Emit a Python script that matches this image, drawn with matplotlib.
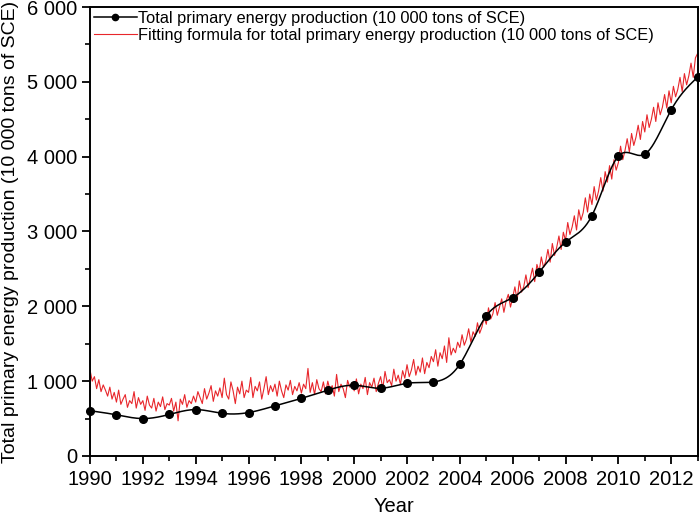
import numpy as np
import matplotlib
matplotlib.use("Agg")
import matplotlib.pyplot as plt
from matplotlib.ticker import MultipleLocator, FuncFormatter

plt.rcParams['font.family'] = ['Liberation Sans', 'DejaVu Sans']

# Annual production (black dots)
years = list(range(1990, 2014))
production = [605, 550, 500, 555, 620, 570, 580, 670, 770, 880, 945, 905,
              972, 989, 1226, 1872, 2115, 2455, 2857, 3213, 4007, 4033, 4626, 5063]

# Monthly fitted values (red line), one row per year, Jan..Dec
fit_by_year = [
    [1150, 1000, 1060, 900, 1020, 860, 950, 880, 800, 920, 760, 850],        # 1990
    [720, 880, 690, 760, 820, 650, 740, 700, 860, 640, 780, 690],            # 1991
    [740, 610, 800, 680, 640, 770, 600, 720, 660, 790, 620, 700],            # 1992
    [680, 770, 600, 720, 470, 760, 690, 820, 650, 740, 700, 800],            # 1993
    [720, 860, 780, 700, 900, 760, 840, 940, 730, 870, 800, 910],            # 1994
    [780, 1040, 820, 760, 990, 870, 700, 920, 830, 1000, 780, 880],          # 1995
    [850, 1050, 780, 930, 870, 990, 760, 900, 1060, 820, 940, 860],          # 1996
    [960, 800, 1000, 870, 780, 950, 880, 1010, 820, 930, 870, 980],          # 1997
    [840, 960, 900, 1170, 850, 980, 820, 1020, 900, 860, 990, 830],          # 1998
    [1000, 880, 940, 800, 1090, 860, 960, 900, 780, 1010, 920, 980],         # 1999
    [870, 1030, 830, 960, 900, 1050, 820, 980, 920, 1040, 860, 970],         # 2000
    [1060, 900, 1130, 980, 1020, 940, 1160, 1000, 1080, 960, 1140, 1040],    # 2001
    [1220, 1060, 1150, 1290, 1080, 1200, 1120, 1310, 1100, 1250, 1180, 1330],  # 2002
    [1260, 1420, 1200, 1380, 1300, 1470, 1250, 1580, 1350, 1440, 1380, 1520],  # 2003
    [1450, 1620, 1480, 1560, 1700, 1520, 1660, 1600, 1780, 1640, 1720, 1850],  # 2004
    [1760, 1980, 1830, 1900, 2050, 1880, 1990, 2100, 1920, 2070, 2160, 1990],  # 2005
    [2120, 2260, 2080, 2340, 2190, 2260, 2420, 2250, 2380, 2510, 2330, 2560],  # 2006
    [2460, 2660, 2520, 2600, 2760, 2590, 2840, 2680, 2790, 2940, 2760, 2990],  # 2007
    [2880, 3120, 2960, 3060, 3210, 3020, 3290, 3150, 3250, 3450, 3260, 3500],  # 2008
    [3360, 3600, 3420, 3540, 3720, 3540, 3800, 3660, 3880, 3700, 3960, 3820],  # 2009
    [3920, 4140, 3960, 4080, 4240, 4060, 4310, 4150, 4260, 4420, 4230, 4470],  # 2010
    [4330, 4560, 4390, 4500, 4660, 4470, 4720, 4560, 4660, 4830, 4650, 4880],  # 2011
    [4720, 4940, 4800, 4900, 5060, 4870, 5110, 4960, 5080, 5250, 5060, 5320],  # 2012
]
fit_last = [5380]  # Jan 2013

labels = ["Total primary energy production (10 000 tons of SCE)",
          "Fitting formula for total primary energy production (10 000 tons of SCE)"]


def natural_spline(x, y, xs):
    x = np.asarray(x, float); y = np.asarray(y, float)
    n = len(x)
    h = np.diff(x)
    A = np.zeros((n, n)); b = np.zeros(n)
    A[0, 0] = 1; A[-1, -1] = 1
    for i in range(1, n - 1):
        A[i, i - 1] = h[i - 1]
        A[i, i] = 2 * (h[i - 1] + h[i])
        A[i, i + 1] = h[i]
        b[i] = 3 * ((y[i + 1] - y[i]) / h[i] - (y[i] - y[i - 1]) / h[i - 1])
    c = np.linalg.solve(A, b)
    out = np.empty_like(xs)
    for k, xv in enumerate(xs):
        i = min(max(np.searchsorted(x, xv) - 1, 0), n - 2)
        dx = xv - x[i]
        bi = (y[i + 1] - y[i]) / h[i] - h[i] * (2 * c[i] + c[i + 1]) / 3
        di = (c[i + 1] - c[i]) / (3 * h[i])
        out[k] = y[i] + bi * dx + c[i] * dx ** 2 + di * dx ** 3
    return out


fit_vals = [v for row in fit_by_year for v in row] + fit_last
fit_x = 1990 + np.arange(len(fit_vals)) / 12.0

fig = plt.figure(figsize=(7.0, 5.15), dpi=100)
ax = fig.add_axes([0.1286, 0.1146, 0.868, 0.8718])

ax.plot(fit_x, fit_vals, color='#e8262b', lw=0.8, zorder=2)
xs = np.linspace(years[0], years[-1], 600)
ax.plot(xs, natural_spline(years, production, xs), color='black', lw=1.1, zorder=3)
ax.plot(years, production, 'o', color='black', ms=5.5, zorder=4, clip_on=False)

# legend proxies
h1, = ax.plot([], [], color='black', lw=1.1, marker='o', ms=4.5)
h2, = ax.plot([], [], color='#e8262b', lw=0.8)
ax.legend([h1, h2], labels, loc='upper left', frameon=False, fontsize=11.8,
          handlelength=2.6, handletextpad=0.1, borderaxespad=0.05,
          labelspacing=0.1, borderpad=0.2)

ax.set_xlim(1990, 2013)
ax.set_ylim(0, 6000)
ax.xaxis.set_major_locator(MultipleLocator(2))
ax.xaxis.set_minor_locator(MultipleLocator(1))
ax.yaxis.set_major_locator(MultipleLocator(1000))
ax.yaxis.set_minor_locator(MultipleLocator(500))


def fmt(v, pos):
    v = int(round(v))
    if v >= 1000:
        return f"{v // 1000} {v % 1000:03d}"
    return str(v)


ax.yaxis.set_major_formatter(FuncFormatter(fmt))
ax.tick_params(axis='both', which='major', direction='out', length=6, width=1.3,
               labelsize=14.5, top=False, right=False)
ax.tick_params(axis='both', which='minor', direction='out', length=3.5, width=1.2,
               top=False, right=False)
ax.tick_params(axis='x', pad=4)
ax.tick_params(axis='y', pad=3)
for s in ax.spines.values():
    s.set_linewidth(1.4)

ax.set_xlabel("Year", fontsize=14.5, labelpad=6)
ax.set_ylabel(labels[0], fontsize=14, labelpad=6)

fig.savefig("out.png", dpi=100)
